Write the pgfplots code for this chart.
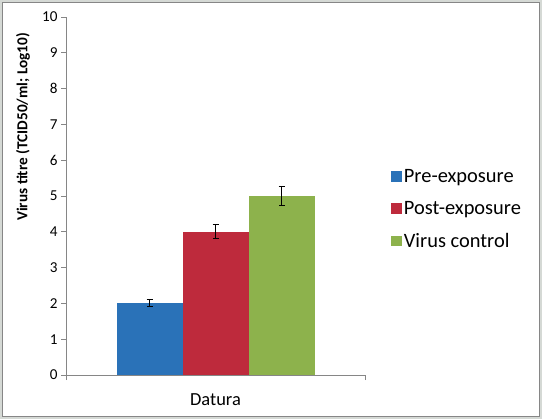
\documentclass[border=0pt]{standalone}
\usepackage{fontspec}
\setmainfont{Carlito}
\usepackage{pgfplots}
\pgfplotsset{compat=1.18}
\definecolor{preblue}{HTML}{2A72B8}
\definecolor{postred}{HTML}{BE2A3C}
\definecolor{ctrlgreen}{HTML}{8DB24C}
\definecolor{axisgrey}{HTML}{868686}
\definecolor{framegrey}{HTML}{D5D9D5}

\begin{document}
\begin{tikzpicture}[x=1bp,y=1bp]
\useasboundingbox (0,0) rectangle (542,419);
\fill[framegrey] (0,0) rectangle (542,419);
\filldraw[fill=white, draw=axisgrey, line width=0.8bp] (2.5,2.5) rectangle (539.5,416.5);
\begin{axis}[
    at={(66bp,44bp)}, anchor=south west,
    scale only axis, width=299bp, height=358bp,
    xmin=-149.5, xmax=149.5, ymin=0, ymax=10,
    ybar=0pt, bar width=66bp,
    axis lines=left, axis line style={-, axisgrey, line width=0.8bp},
    ytick={0,1,...,10},
    xtick={0}, xticklabels={Datura},
    x tick style={draw=none},
    y tick style={axisgrey, line width=0.8bp},
    tick align=outside, major tick length=5bp,
    extra x ticks={-149.5,149.5}, extra x tick labels={},
    extra x tick style={x tick style={draw=axisgrey, line width=0.8bp}, tick align=outside},
    tick label style={font=\fontsize{15.2}{16}\selectfont},
    xticklabel style={font=\fontsize{18.5}{20}\selectfont, yshift=-10bp},
    /pgf/number format/assume math mode=true,
    ylabel={\textbf{Virus titre (TCID50/ml; Log10)}},
    ylabel style={font=\fontsize{15.3}{17}\selectfont, at={(rel axis cs:-0.144,0.693)}, anchor=center},
    legend style={draw=none, fill=none, at={(rel axis cs:1.077,0.587)}, anchor=north west,
        font=\fontsize{20.5}{22}\selectfont, row sep=13.5bp,
        /tikz/every even column/.append style={column sep=3bp}},
    legend cell align=left,
    legend image code/.code={\fill[#1] (0bp,-5.3bp) rectangle (10.7bp,5.3bp);},
    error bars/error bar style={black, line width=1bp},
    error bars/error mark options={rotate=90, mark size=3bp, line width=1bp, black},
]
\addplot[fill=preblue, draw=none, error bars/.cd, y dir=both, y explicit]
    coordinates {(0,2) +- (0,0.1)};
\addlegendentry{Pre-exposure}
\addplot[fill=postred, draw=none, error bars/.cd, y dir=both, y explicit]
    coordinates {(0,4) +- (0,0.2)};
\addlegendentry{Post-exposure}
\addplot[fill=ctrlgreen, draw=none, error bars/.cd, y dir=both, y explicit]
    coordinates {(0,5) +- (0,0.26)};
\addlegendentry{Virus control}
\end{axis}
\end{tikzpicture}
\end{document}
